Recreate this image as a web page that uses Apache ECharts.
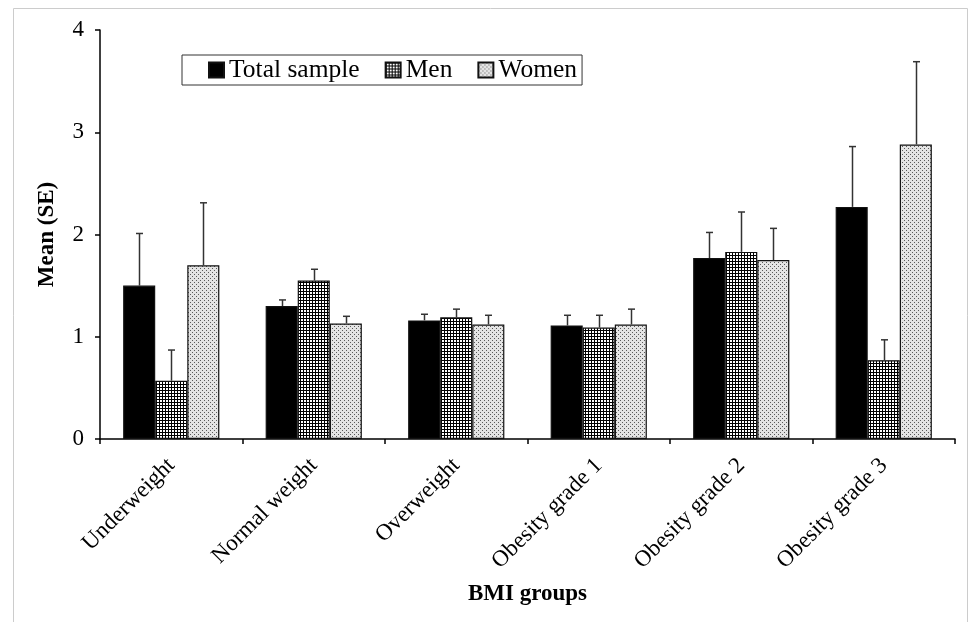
<!DOCTYPE html>
<html>
<head>
<meta charset="utf-8">
<script src="https://cdn.jsdelivr.net/npm/echarts@6/dist/echarts.min.js"></script>
<style>html,body{margin:0;padding:0;background:#fff;}#c{width:969px;height:622px;}</style>
</head>
<body>
<div id="c"></div>
<script>
var categories = ['Underweight', 'Normal weight', 'Overweight', 'Obesity grade 1', 'Obesity grade 2', 'Obesity grade 3'];
var seriesNames = ['Total sample', 'Men', 'Women'];
var totalMean = [1.50, 1.30, 1.16, 1.11, 1.77, 2.27];
var totalSE   = [0.51, 0.06, 0.06, 0.10, 0.25, 0.59];
var menMean   = [0.57, 1.55, 1.19, 1.09, 1.83, 0.77];
var menSE     = [0.30, 0.11, 0.08, 0.12, 0.39, 0.20];
var womenMean = [1.70, 1.13, 1.12, 1.12, 1.75, 2.88];
var womenSE   = [0.61, 0.07, 0.09, 0.15, 0.31, 0.81];
var yTicks = [0, 1, 2, 3, 4];

function gridPattern() {
  var c = document.createElement('canvas');
  c.width = 3; c.height = 3;
  var g = c.getContext('2d');
  g.fillStyle = '#ffffff'; g.fillRect(0, 0, 3, 3);
  g.fillStyle = '#000000';
  g.fillRect(0, 0, 3, 1);
  g.fillRect(0, 0, 1, 3);
  return c;
}
function dotPattern() {
  var c = document.createElement('canvas');
  c.width = 4; c.height = 4;
  var g = c.getContext('2d');
  g.fillStyle = '#e4e4e4'; g.fillRect(0, 0, 4, 4);
  g.fillStyle = '#5a5a5a';
  g.fillRect(0, 0, 1, 1);
  g.fillRect(2, 2, 1, 1);
  return c;
}

var CAT_GAP = 0.325;
var fills = ['#000000', {image: gridPattern(), repeat: 'repeat'}, {image: dotPattern(), repeat: 'repeat'}];
var means = [totalMean, menMean, womenMean];
var ses = [totalSE, menSE, womenSE];

var series = [];
for (var s = 0; s < 3; s++) {
  series.push({
    name: seriesNames[s],
    type: 'bar',
    data: means[s],
    barGap: '0%',
    barCategoryGap: (CAT_GAP * 100) + '%',
    itemStyle: {color: fills[s], borderColor: '#111', borderWidth: 1.2},
    emphasis: {disabled: true}
  });
}
for (var s2 = 0; s2 < 3; s2++) {
  (function (si) {
    var d = means[si].map(function (v, i) { return [i, v, v + ses[si][i]]; });
    series.push({
      type: 'custom',
      silent: true,
      z: 3,
      data: d,
      renderItem: function (params, api) {
        var ci = api.value(0);
        var lo = api.coord([ci, api.value(1)]);
        var hi = api.coord([ci, api.value(2)]);
        var band = api.size([1, 0])[0];
        var bw = band * (1 - CAT_GAP) / 3;
        var x = lo[0] + (si - 1) * bw;
        x = Math.round(x) + 0.5;
        return {
          type: 'group',
          children: [
            {type: 'line', shape: {x1: x, y1: lo[1], x2: x, y2: hi[1]}, style: {stroke: '#333', lineWidth: 1.5}},
            {type: 'line', shape: {x1: x - 3.5, y1: hi[1], x2: x + 3.5, y2: hi[1]}, style: {stroke: '#333', lineWidth: 1.5}}
          ]
        };
      }
    });
  })(s2);
}

var chart = echarts.init(document.getElementById('c'), null, {renderer: 'canvas'});
chart.setOption({
  animation: false,
  backgroundColor: '#ffffff',
  textStyle: {fontFamily: 'Liberation Serif', color: '#000'},
  graphic: [{
    type: 'rect', silent: true, z: -10,
    shape: {x: 13.5, y: 8.5, width: 954, height: 700},
    style: {fill: 'none', stroke: '#cccccc', lineWidth: 1}
  }],
  legend: {
    data: seriesNames,
    left: 182, top: 55,
    padding: [2, 5, 2, 26],
    itemGap: 25,
    itemWidth: 15, itemHeight: 15,
    icon: 'rect',
    borderColor: '#333', borderWidth: 1,
    textStyle: {fontFamily: 'Liberation Serif', fontSize: 25.5, color: '#000'}
  },
  grid: {left: 100, right: 14, top: 30, bottom: 183},
  xAxis: {
    type: 'category',
    data: categories,
    name: 'BMI groups',
    nameLocation: 'middle',
    nameGap: 144,
    nameTextStyle: {fontFamily: 'Liberation Serif', fontSize: 23, fontWeight: 'bold', color: '#000'},
    axisLine: {lineStyle: {color: '#000', width: 1.5}},
    axisTick: {show: true, length: 5, lineStyle: {color: '#000', width: 1.5}},
    axisLabel: {rotate: 45, fontFamily: 'Liberation Serif', fontSize: 23, color: '#000', margin: 23}
  },
  yAxis: {
    type: 'value',
    min: yTicks[0], max: yTicks[yTicks.length - 1], interval: 1,
    name: 'Mean (SE)',
    nameLocation: 'middle',
    nameGap: 41,
    nameTextStyle: {fontFamily: 'Liberation Serif', fontSize: 23, fontWeight: 'bold', color: '#000'},
    axisLine: {show: true, lineStyle: {color: '#000', width: 1.5}},
    axisTick: {show: true, length: 5, lineStyle: {color: '#000', width: 1.5}},
    splitLine: {show: false},
    axisLabel: {fontFamily: 'Liberation Serif', fontSize: 23, color: '#000', margin: 16}
  },
  series: series
});
</script>
</body>
</html>
